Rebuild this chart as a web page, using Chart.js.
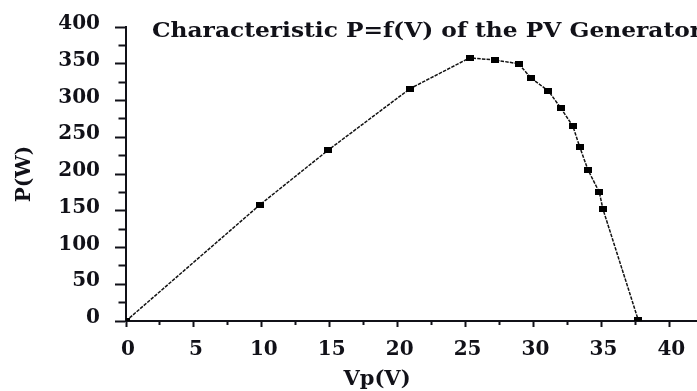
<!DOCTYPE html>
<html>
<head>
<meta charset="utf-8">
<script src="https://cdn.jsdelivr.net/npm/chart.js@4"></script>
<style>
  body { margin: 0; background: #fff; overflow: hidden; }
  /* canvas is a little wider than the window so the x axis runs off the right edge */
</style>
</head>
<body>
<canvas id="pv" width="702" height="391"></canvas>
<script>
/* ---------- data ---------- */

const voltage = [0, 9.85, 14.85, 20.9, 25.3, 27.2, 28.9, 29.85, 31.1, 32.0, 32.9, 33.4, 34.0, 34.85, 35.1, 37.7];
const power   = [0, 158, 232, 316, 358, 355, 350, 330, 313, 290, 265, 237, 206, 175, 153, 2];

const chartTitle = "Characteristic P=f(V) of the PV Generator";
const xTitle = "Vp(V)";
const yTitle = "P(W)";

const ink = "#111118";
const serif = "'DejaVu Serif', 'Liberation Serif', serif";


/* ---------- little flat marker, wider than tall ---------- */

const marker = document.createElement("canvas");
marker.width = 8;
marker.height = 6;
marker.getContext("2d").fillRect(0, 0, 8, 6);


/* ---------- titles drawn inside the plot ---------- */

// the title in the source is set wide, so it is squeezed out sideways
const textPlugin = {
    id: "pvText",
    afterDraw(chart) {
        const ctx = chart.ctx;
        const area = chart.chartArea;
        ctx.save();
        ctx.fillStyle = ink;
        ctx.font = "bold 21px " + serif;
        ctx.textBaseline = "alphabetic";
        ctx.textAlign = "left";
        const x0 = area.left + 26;
        const sx = 550 / ctx.measureText(chartTitle).width;
        ctx.translate(x0, 37);
        ctx.scale(sx, 1);
        ctx.fillText(chartTitle, 0, 0);
        ctx.restore();

        ctx.save();
        ctx.fillStyle = ink;
        ctx.font = "bold 21px " + serif;
        ctx.textBaseline = "alphabetic";
        ctx.textAlign = "center";
        ctx.fillText(xTitle, area.left + 251, 385);
        ctx.restore();
    }
};


/* ---------- chart ---------- */

const points = voltage.map((v, i) => ({ x: v, y: power[i] }));

new Chart(document.getElementById("pv"), {
    type: "scatter",
    data: {
        datasets: [{
            data: points,
            showLine: true,
            borderColor: "#121212",
            borderWidth: 1.5,
            borderDash: [3.5, 1.2],
            pointStyle: marker,
            pointRadius: 4,
            pointHoverRadius: 4
        }]
    },
    options: {
        responsive: false,
        animation: false,
        devicePixelRatio: 1,
        layout: { padding: { top: 27, right: 0, bottom: 0, left: 0 } },
        plugins: {
            legend: { display: false },
            tooltip: { enabled: false }
        },
        scales: {
            x: {
                type: "linear",
                min: 0,
                max: 42,
                afterFit: s => { s.height = 70; s.paddingRight = 0; },
                border: { display: true, color: ink, width: 2 },
                grid: {
                    drawOnChartArea: false,
                    drawTicks: true,
                    tickLength: 6,
                    tickWidth: 2,
                    tickColor: ink,
                    tickBorderDash: c => (c.tick && c.tick.value % 5 !== 0) ? [3, 20] : []
                },
                ticks: {
                    stepSize: 2.5,
                    autoSkip: false,
                    maxRotation: 0,
                    includeBounds: false,
                    padding: 11,
                    labelOffset: 2,
                    color: ink,
                    font: { family: serif, size: 20, weight: "bold" },
                    callback: v => v % 5 === 0 ? v : ""
                }
            },
            y: {
                min: 0,
                max: 400,
                afterFit: s => { s.width = 126; },
                border: { display: true, color: ink, width: 2 },
                grid: {
                    drawOnChartArea: false,
                    drawTicks: true,
                    tickLength: 11,
                    tickWidth: 2,
                    tickColor: ink,
                    tickBorderDash: c => (c.tick && c.tick.value % 50 !== 0) ? [0, 3.5, 8, 0] : []
                },
                ticks: {
                    stepSize: 25,
                    autoSkip: false,
                    padding: 15,
                    labelOffset: -3,
                    color: ink,
                    font: { family: serif, size: 20, weight: "bold" },
                    callback: v => v % 50 === 0 ? v : ""
                },
                title: {
                    display: true,
                    text: yTitle,
                    color: ink,
                    padding: { top: 13, bottom: 0 },
                    font: { family: serif, size: 20, weight: "bold" }
                }
            }
        }
    },
    plugins: [textPlugin]
});
</script>
</body>
</html>
